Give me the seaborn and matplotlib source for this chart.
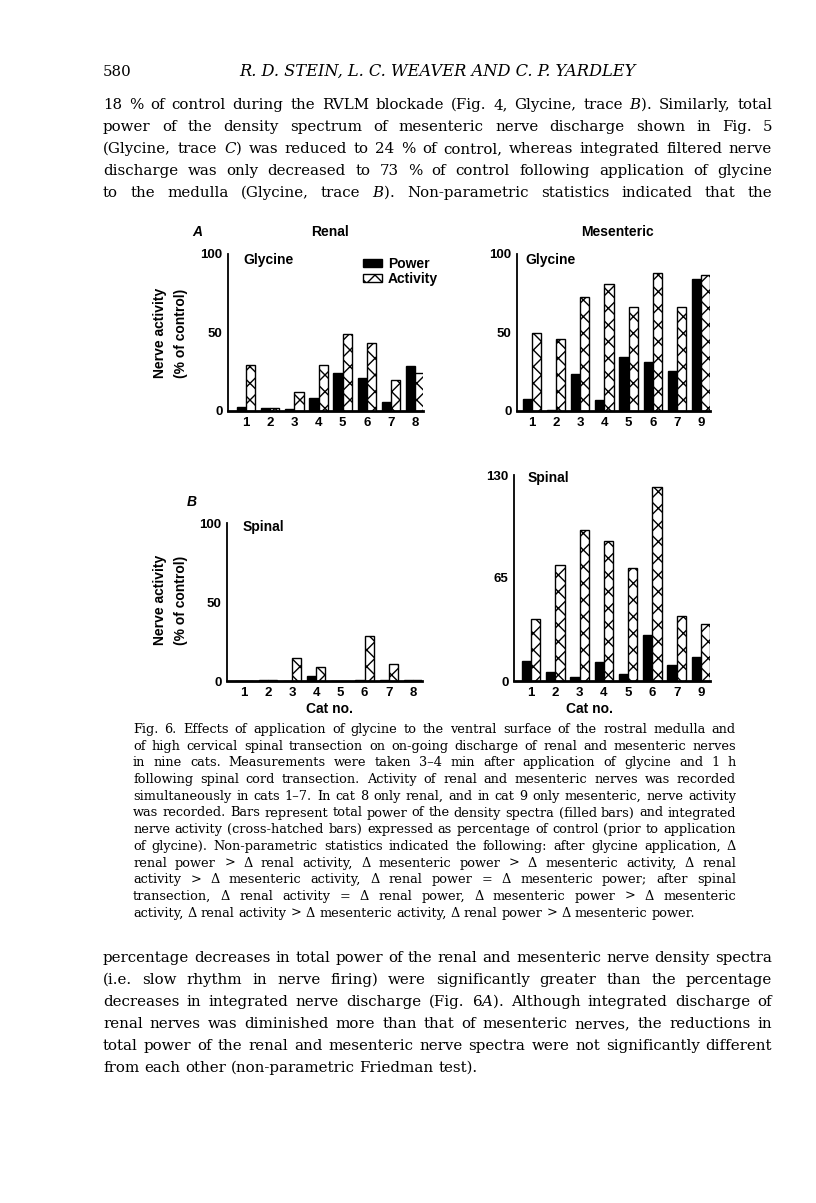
import matplotlib
matplotlib.use("Agg")
import matplotlib.pyplot as plt
import pandas as pd
import seaborn as sns

sns.set_theme(style="white")
plt.rcParams["font.family"] = ["Liberation Sans", "DejaVu Sans"]
plt.rcParams["mathtext.fontset"] = "dejavuserif"
plt.rcParams["hatch.linewidth"] = 1.0
plt.rcParams["text.color"] = "black"

# ── data ─────────────────────────────────────────────────
renal_cats = ["1", "2", "3", "4", "5", "6", "7", "8"]
mes_cats = ["1", "2", "3", "4", "5", "6", "7", "9"]

renal_gly_power = [2.3, 2, 1, 8, 24, 21, 6, 28.5]
renal_gly_activity = [29, 2, 12, 29, 49, 43, 19.5, 24]
mes_gly_power = [7.8, 0.6, 23.6, 6.8, 34.6, 31.4, 25.3, 83.8]
mes_gly_activity = [49.6, 45.6, 72.6, 80.8, 66.5, 87.8, 66.5, 86.5]

renal_spi_power = [0.3, 0.5, 0.3, 3, 0.3, 0.5, 0.5, 0.5]
renal_spi_activity = [0.3, 0.5, 14.8, 8.6, 0.3, 28.7, 10.5, 0.5]
mes_spi_power = [12.4, 5.5, 2.3, 12.2, 4.2, 29.3, 10.1, 15.2]
mes_spi_activity = [39.2, 73.3, 95.2, 88.3, 71, 122.2, 41, 36]

header_left = "580"
header_title = "R. D. STEIN, L. C. WEAVER AND C. P. YARDLEY"

body_top = [
    "18 % of control during the RVLM blockade (Fig. 4, Glycine, trace $B$). Similarly, total",
    "power of the density spectrum of mesenteric nerve discharge shown in Fig. 5",
    "(Glycine, trace $C$) was reduced to 24 % of control, whereas integrated filtered nerve",
    "discharge was only decreased to 73 % of control following application of glycine",
    "to the medulla (Glycine, trace $B$). Non-parametric statistics indicated that the",
]
caption = [
    "Fig. 6. Effects of application of glycine to the ventral surface of the rostral medulla and",
    "of high cervical spinal transection on on-going discharge of renal and mesenteric nerves",
    "in nine cats. Measurements were taken 3–4 min after application of glycine and 1 h",
    "following spinal cord transection. Activity of renal and mesenteric nerves was recorded",
    "simultaneously in cats 1–7. In cat 8 only renal, and in cat 9 only mesenteric, nerve activity",
    "was recorded. Bars represent total power of the density spectra (filled bars) and integrated",
    "nerve activity (cross-hatched bars) expressed as percentage of control (prior to application",
    "of glycine). Non-parametric statistics indicated the following: after glycine application, Δ",
    "renal power > Δ renal activity, Δ mesenteric power > Δ mesenteric activity, Δ renal",
    "activity > Δ mesenteric activity, Δ renal power = Δ mesenteric power; after spinal",
    "transection, Δ renal activity = Δ renal power, Δ mesenteric power > Δ mesenteric",
    "activity, Δ renal activity > Δ mesenteric activity, Δ renal power > Δ mesenteric power.",
]
body_bottom = [
    "percentage decreases in total power of the renal and mesenteric nerve density spectra",
    "(i.e. slow rhythm in nerve firing) were significantly greater than the percentage",
    "decreases in integrated nerve discharge (Fig. 6$A$). Although integrated discharge of",
    "renal nerves was diminished more than that of mesenteric nerves, the reductions in",
    "total power of the renal and mesenteric nerve spectra were not significantly different",
    "from each other (non-parametric Friedman test).",
]

W, H = 816, 1203
fig = plt.figure(figsize=(W / 100, H / 100), dpi=100)
fig.patch.set_facecolor("white")


def fx(x):
    return x / W


def fy(y):
    return 1 - y / H


renderer = fig.canvas.get_renderer()
SERIF = "DejaVu Serif"


def text_width(s, size, **kw):
    t = fig.text(0, 0, s, fontsize=size, family=SERIF, **kw)
    w = t.get_window_extent(renderer).width
    t.remove()
    return w


def fit_size(lines, width, **kw):
    widest = max(text_width(line, 10, **kw) for line in lines)
    return 10 * width / widest * 0.995


def justify(line, x0, x1, y, size, last=False):
    words = line.split(" ")
    texts = [fig.text(0, fy(y), w, fontsize=size, family=SERIF,
                      va="baseline", ha="left") for w in words]
    widths = [t.get_window_extent(renderer).width for t in texts]
    if last or len(words) == 1:
        gap = 0.32 * size * 100 / 72
    else:
        gap = (x1 - x0 - sum(widths)) / (len(words) - 1)
    x = x0
    for t, w in zip(texts, widths):
        t.set_x(fx(x))
        x += w + gap


def paragraph(lines, x0, x1, y0, step, size, last_left=True):
    for i, line in enumerate(lines):
        last = last_left and i == len(lines) - 1
        justify(line, x0, x1, y0 + i * step, size, last)


def panel(rect, cats, power, activity, ylim, yticks, ytlabels, xlim):
    x0, ytop, x1, ybot = rect
    ax = fig.add_axes([fx(x0), fy(ybot), (x1 - x0) / W, (ybot - ytop) / H])
    df = pd.DataFrame({
        "cat": cats * 2,
        "kind": ["Power"] * len(cats) + ["Activity"] * len(cats),
        "value": power + activity,
    })
    sns.barplot(data=df, x="cat", y="value", hue="kind", order=cats,
                hue_order=["Power", "Activity"], palette=["black", "white"],
                saturation=1, edgecolor="black", linewidth=1.0, width=0.76,
                errorbar=None, legend=False, ax=ax)
    for p in ax.containers[1]:
        p.set_hatch("xx")
    ax.set_xlim(*xlim)
    ax.set_ylim(*ylim)
    ax.set_yticks(yticks)
    ax.set_yticklabels(ytlabels)
    ax.set_xlabel("")
    ax.set_ylabel("")
    for s in ["top", "right"]:
        ax.spines[s].set_visible(False)
    ax.spines["left"].set_linewidth(1.3)
    ax.spines["bottom"].set_linewidth(2.0)
    ax.spines["left"].set_color("black")
    ax.spines["bottom"].set_color("black")
    ax.tick_params(axis="y", direction="in", length=5, width=1.2, pad=4,
                   labelsize=9.5, colors="black")
    ax.tick_params(axis="x", length=0, pad=4, labelsize=9.5, colors="black")
    for lab in ax.get_xticklabels() + ax.get_yticklabels():
        lab.set_fontweight("bold")
    ax.set_facecolor("none")
    return ax


ax_rg = panel((228, 254, 423, 411), renal_cats, renal_gly_power, renal_gly_activity,
              (0, 100), [0, 25, 50, 75, 100], ["0", "", "50", "", "100"], (-0.75, 7.33))
ax_mg = panel((517, 254, 710, 411), mes_cats, mes_gly_power, mes_gly_activity,
              (0, 100), [0, 25, 50, 75, 100], ["0", "", "50", "", "100"], (-0.62, 7.37))
ax_rs = panel((227, 523, 422, 681), renal_cats, renal_spi_power, renal_spi_activity,
              (0, 100), [0, 25, 50, 75, 100], ["0", "", "50", "", "100"], (-0.69, 7.37))
ax_ms = panel((514, 475, 710, 681), mes_cats, mes_spi_power, mes_spi_activity,
              (0, 130), [0, 32.5, 65, 97.5, 130], ["0", "", "65", "", "130"], (-0.7, 7.37))

ax_rg.legend(handles=[ax_rg.containers[0], ax_rg.containers[1]],
             labels=["Power", "Activity"], loc="upper left",
             bbox_to_anchor=(fx(356), fy(250)), bbox_transform=fig.transFigure,
             frameon=False, handlelength=1.4, handleheight=0.55,
             handletextpad=0.4, labelspacing=0.05, borderpad=0,
             prop={"size": 10, "weight": "bold"})

# chart labels
lab = dict(fontsize=10, fontweight="bold", va="center")
fig.text(fx(197), fy(232), "A", ha="center", style="italic", **lab)
fig.text(fx(330), fy(232), "Renal", ha="center", **lab)
fig.text(fx(617), fy(232), "Mesenteric", ha="center", **lab)
fig.text(fx(192), fy(502), "B", ha="center", style="italic", **lab)
fig.text(fx(243), fy(260), "Glycine", ha="left", **lab)
fig.text(fx(525), fy(260), "Glycine", ha="left", **lab)
fig.text(fx(243), fy(527), "Spinal", ha="left", **lab)
fig.text(fx(528), fy(478), "Spinal", ha="left", **lab)
for yc in (333, 600):
    fig.text(fx(160), fy(yc), "Nerve activity", ha="center", rotation=90, **lab)
    fig.text(fx(181), fy(yc), "(% of control)", ha="center", rotation=90, **lab)
fig.text(fx(330), fy(709), "Cat no.", ha="center", **lab)
fig.text(fx(590), fy(709), "Cat no.", ha="center", **lab)

# page text
body_size = fit_size(body_top + body_bottom, 772 - 103)
cap_size = fit_size(caption, 736 - 133)
head_size = body_size * 1.08
fig.text(fx(103), fy(76), header_left, fontsize=body_size, family=SERIF,
         va="baseline", ha="left")
fig.text(fx(437), fy(76), header_title, fontsize=head_size, family=SERIF,
         style="italic", va="baseline", ha="center")
paragraph(body_top, 103, 772, 109, 22, body_size, last_left=False)
paragraph(caption, 133, 736, 733, 16.7, cap_size)
paragraph(body_bottom, 103, 772, 962, 22, body_size)

fig.savefig("out.png", dpi=100)
plt.close(fig)
